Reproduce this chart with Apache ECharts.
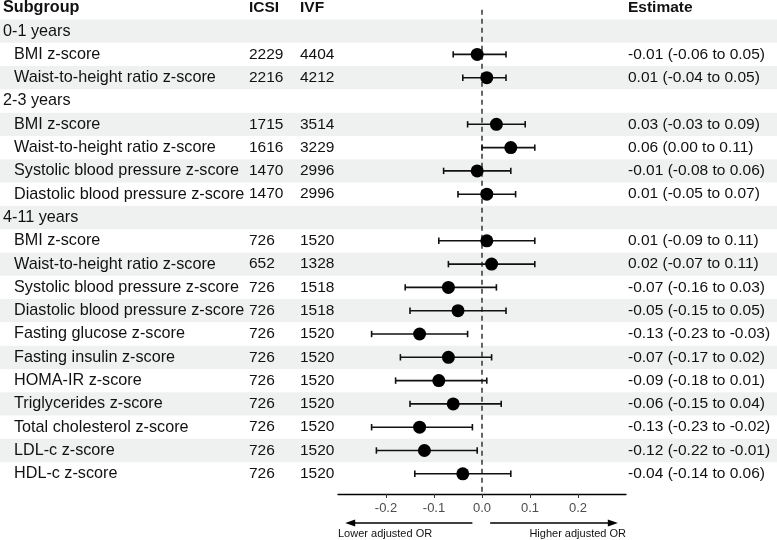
<!DOCTYPE html>
<html><head><meta charset="utf-8">
<script src="https://cdn.jsdelivr.net/npm/echarts@6/dist/echarts.min.js"></script>
<style>html,body{margin:0;padding:0;background:#fff}#c{width:777px;height:540px}</style>
</head><body><div id="c"></div>
<script>
// ---------- data ----------
const headers = ['Subgroup', 'ICSI', 'IVF', 'Estimate'];
const rowLabels = ['0-1 years', 'BMI z-score', 'Waist-to-height ratio z-score',
  '2-3 years', 'BMI z-score', 'Waist-to-height ratio z-score', 'Systolic blood pressure z-score', 'Diastolic blood pressure z-score',
  '4-11 years', 'BMI z-score', 'Waist-to-height ratio z-score', 'Systolic blood pressure z-score', 'Diastolic blood pressure z-score',
  'Fasting glucose z-score', 'Fasting insulin z-score', 'HOMA-IR z-score', 'Triglycerides z-score',
  'Total cholesterol z-score', 'LDL-c z-score', 'HDL-c z-score'];
const icsiN = [null, 2229, 2216, null, 1715, 1616, 1470, 1470, null, 726, 652, 726, 726, 726, 726, 726, 726, 726, 726, 726];
const ivfN  = [null, 4404, 4212, null, 3514, 3229, 2996, 2996, null, 1520, 1328, 1518, 1518, 1520, 1520, 1520, 1520, 1520, 1520, 1520];
const estimate = [null, -0.01, 0.01, null, 0.03, 0.06, -0.01, 0.01, null, 0.01, 0.02, -0.07, -0.05, -0.13, -0.07, -0.09, -0.06, -0.13, -0.12, -0.04];
const lowerCI  = [null, -0.06, -0.04, null, -0.03, 0.00, -0.08, -0.05, null, -0.09, -0.07, -0.16, -0.15, -0.23, -0.17, -0.18, -0.15, -0.23, -0.22, -0.14];
const upperCI  = [null, 0.05, 0.05, null, 0.09, 0.11, 0.06, 0.07, null, 0.11, 0.11, 0.03, 0.05, -0.03, 0.02, 0.01, 0.04, -0.02, -0.01, 0.06];
const xTicks = [-0.2, -0.1, 0, 0.1, 0.2];
const arrowLabels = ['Lower adjusted OR', 'Higher adjusted OR'];
const arrowSpans = [[-0.02, -0.285], [0.017, 0.283]];

// ---------- layout ----------
const FONT = 'Liberation Sans, Arial, Helvetica, sans-serif';
const FS = 15.5;
const FS_LABEL = 16.2;
const Y_MIN = -1.335, Y_MAX = 19.867;
const colX = { label: 3, indent: 14, icsi: 249, ivf: 300, est: 628 };
const isGroup = i => icsiN[i] === null;
const fmt = v => (Math.abs(v) < 1e-9 ? 0 : v).toFixed(2);

const bandRows = rowLabels.map((_, i) => i).filter(i => i % 2 === 0);
const textRows = [-1].concat(rowLabels.map((_, i) => i));

const chart = echarts.init(document.getElementById('c'), null, { renderer: 'canvas' });

function txt(x, y, text, bold, size) {
  return {
    type: 'text',
    style: {
      text: text, x: x, y: y, fill: '#111',
      fontSize: size || FS, fontFamily: FONT, fontWeight: bold ? 'bold' : 'normal',
      align: 'left', verticalAlign: 'middle'
    }
  };
}

const option = {
  animation: false,
  backgroundColor: '#fff',
  grid: [
    { left: 0, right: 0, top: 0, bottom: 46 },
    { left: 338, right: 151, top: 0, bottom: 46 }
  ],
  xAxis: [
    { gridIndex: 0, type: 'value', min: 0, max: 777, show: false },
    {
      gridIndex: 1, type: 'value', min: -0.3, max: 0.3, interval: 0.1,
      axisLine: { show: true, onZero: false, lineStyle: { color: '#000', width: 1.3 } },
      axisTick: { show: true, customValues: xTicks, length: 4, lineStyle: { color: '#333', width: 1 } },
      axisLabel: { customValues: xTicks, formatter: v => (Math.abs(v) < 1e-9 ? 0 : v).toFixed(1),
        color: '#4d4d4d', fontSize: 13, fontFamily: FONT, margin: 8 },
      splitLine: { show: false }
    }
  ],
  yAxis: [
    { gridIndex: 0, type: 'value', inverse: true, min: Y_MIN, max: Y_MAX, show: false },
    { gridIndex: 1, type: 'value', inverse: true, min: Y_MIN, max: Y_MAX, show: false }
  ],
  series: [
    {
      type: 'custom', xAxisIndex: 0, yAxisIndex: 0, silent: true, z: 0,
      data: bandRows.map(i => [i]),
      renderItem: (params, api) => {
        const i = api.value(0);
        const a = api.coord([0, i - 0.5]);
        const b = api.coord([777, i + 0.5]);
        return { type: 'rect', shape: { x: a[0], y: a[1], width: b[0] - a[0], height: b[1] - a[1] },
          style: { fill: '#eff1f0' } };
      }
    },
    {
      type: 'custom', xAxisIndex: 0, yAxisIndex: 0, silent: true, z: 2, clip: false,
      data: textRows.map(i => [i]),
      renderItem: (params, api) => {
        const i = api.value(0);
        const y = api.coord([0, i])[1];
        const px = x => api.coord([x, i])[0];
        const children = [];
        if (i === -1) {
          children.push(txt(px(colX.label), y, headers[0], true, FS_LABEL));
          children.push(txt(px(colX.icsi), y, headers[1], true));
          children.push(txt(px(colX.ivf), y, headers[2], true));
          children.push(txt(px(colX.est), y, headers[3], true));
        } else if (isGroup(i)) {
          children.push(txt(px(colX.label), y, rowLabels[i], false, FS_LABEL));
        } else {
          children.push(txt(px(colX.indent), y, rowLabels[i], false, FS_LABEL));
          children.push(txt(px(colX.icsi), y, String(icsiN[i]), false));
          children.push(txt(px(colX.ivf), y, String(ivfN[i]), false));
          children.push(txt(px(colX.est), y,
            fmt(estimate[i]) + ' (' + fmt(lowerCI[i]) + ' to ' + fmt(upperCI[i]) + ')', false));
        }
        return { type: 'group', children: children };
      }
    },
    {
      type: 'line', xAxisIndex: 1, yAxisIndex: 1, silent: true, z: 1,
      symbol: 'none',
      data: [[0, -0.92], [0, Y_MAX]],
      lineStyle: { color: '#333', width: 1.5, type: [5, 4] }
    },
    {
      type: 'custom', xAxisIndex: 1, yAxisIndex: 1, silent: true, z: 3,
      data: estimate.map((e, i) => e === null ? null : [lowerCI[i], upperCI[i], i]).filter(d => d),
      renderItem: (params, api) => {
        const a = api.coord([api.value(0), api.value(2)]);
        const b = api.coord([api.value(1), api.value(2)]);
        const h = 3.2;
        const st = { stroke: '#111', lineWidth: 1.6 };
        return { type: 'group', children: [
          { type: 'line', shape: { x1: a[0], y1: a[1], x2: b[0], y2: b[1] }, style: st },
          { type: 'line', shape: { x1: a[0], y1: a[1] - h, x2: a[0], y2: a[1] + h }, style: st },
          { type: 'line', shape: { x1: b[0], y1: b[1] - h, x2: b[0], y2: b[1] + h }, style: st }
        ] };
      }
    },
    {
      type: 'scatter', xAxisIndex: 1, yAxisIndex: 1, silent: true, z: 4,
      symbol: 'circle', symbolSize: 13,
      itemStyle: { color: '#000', opacity: 1 },
      data: estimate.map((e, i) => e === null ? null : [e, i]).filter(d => d)
    },
    {
      type: 'custom', xAxisIndex: 1, yAxisIndex: 1, silent: true, z: 3, clip: false,
      data: arrowSpans.map((s, k) => [s[0], s[1], k]),
      renderItem: (params, api) => {
        const k = api.value(2);
        const axisY = api.coord([0, Y_MAX])[1];
        const y = axisY + 29;
        const x1 = api.coord([api.value(0), Y_MAX])[0];
        const x2 = api.coord([api.value(1), Y_MAX])[0];
        const dir = x2 > x1 ? 1 : -1;
        const L = 10, W = 3.6;
        const tx = api.coord([k === 0 ? -0.3 : 0.3, Y_MAX])[0];
        return { type: 'group', children: [
          { type: 'line', shape: { x1: x1, y1: y, x2: x2 - dir * L * 0.6, y2: y }, style: { stroke: '#000', lineWidth: 1.5 } },
          { type: 'polygon', shape: { points: [[x2, y], [x2 - dir * L, y - W], [x2 - dir * L, y + W]] }, style: { fill: '#000' } },
          { type: 'text', style: { text: arrowLabels[k], x: tx, y: y + 11, fill: '#111', fontSize: 11, fontFamily: FONT,
              align: k === 0 ? 'left' : 'right', verticalAlign: 'middle' } }
        ] };
      }
    }
  ]
};
chart.setOption(option);
</script>
</body></html>
